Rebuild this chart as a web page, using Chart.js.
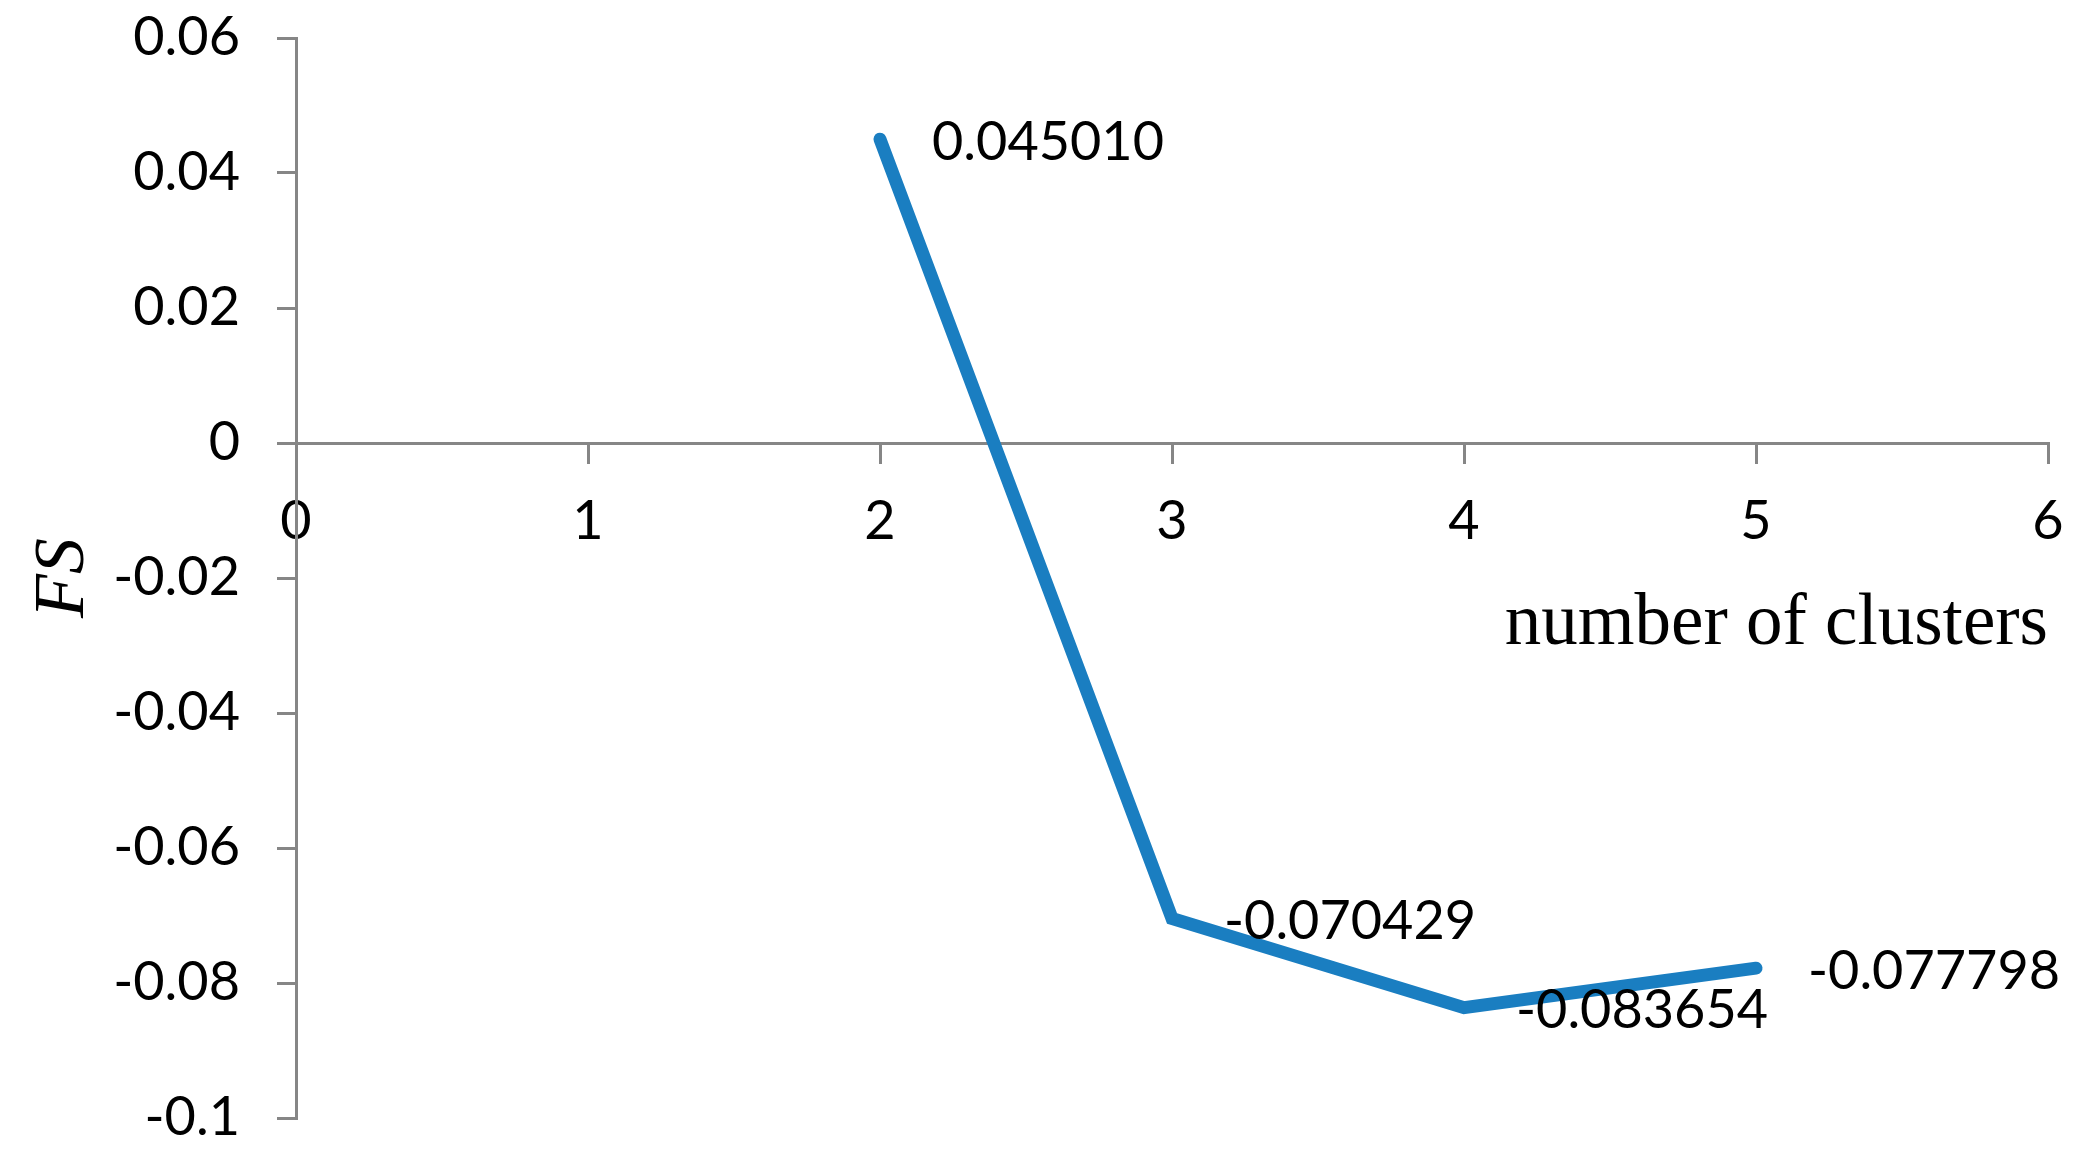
<!DOCTYPE html>
<html>
<head>
<meta charset="utf-8">
<script src="https://cdn.jsdelivr.net/npm/chart.js@4"></script>
<style>
  html, body { margin: 0; padding: 0; background: #ffffff; }
  #wrap { width: 2084px; height: 1162px; }
</style>
</head>
<body>
<div id="wrap"><canvas id="c" width="2084" height="1162"></canvas></div>
<script>
// ---- data ----
const clusters = [2, 3, 4, 5];
const fsValues = [0.045010, -0.070429, -0.083654, -0.077798];
const pointLabels = ['0.045010', '-0.070429', '-0.083654', '-0.077798'];
const xTickLabels = ['0', '1', '2', '3', '4', '5', '6'];
const yTickLabels = ['-0.1', '-0.08', '-0.06', '-0.04', '-0.02', '0', '0.02', '0.04', '0.06'];
const xTitle = 'number of clusters';
const yTitle = 'FS';

const AXIS = '#868686';
const LINE = '#1A7EC1';
const TICK_FONT = { family: 'Lato', size: 54 };

const labelPlugin = {
  id: 'pointLabels',
  afterDatasetsDraw(chart) {
    const meta = chart.getDatasetMeta(0);
    const ctx = chart.ctx;
    ctx.save();
    ctx.font = '54px Lato';
    ctx.fillStyle = '#000000';
    ctx.textAlign = 'left';
    ctx.textBaseline = 'middle';
    meta.data.forEach((pt, i) => {
      ctx.fillText(pointLabels[i], pt.x + 52, pt.y + 3);
    });
    ctx.restore();
  }
};

new Chart(document.getElementById('c'), {
  type: 'scatter',
  data: {
    datasets: [{
      data: clusters.map((c, i) => ({ x: c, y: fsValues[i] })),
      showLine: true,
      borderColor: LINE,
      borderWidth: 13,
      borderCapStyle: 'round',
      borderJoinStyle: 'miter',
      pointRadius: 0,
      pointHoverRadius: 0,
      tension: 0
    }]
  },
  options: {
    responsive: false,
    animation: false,
    devicePixelRatio: 1,
    layout: { padding: { top: 38, bottom: 44, right: 36, left: 0 } },
    plugins: { legend: { display: false }, tooltip: { enabled: false } },
    scales: {
      x: {
        type: 'linear',
        position: { y: 0 },
        min: 0, max: 6,
        afterFit: (s) => { s.paddingLeft = 0; s.paddingRight = 0; },
        ticks: {
          stepSize: 1,
          color: '#000000',
          font: TICK_FONT,
          padding: 27,
          maxRotation: 0,
          callback: (v) => xTickLabels[Math.round(v)]
        },
        grid: { drawOnChartArea: false, drawTicks: true, tickLength: 19, color: AXIS, lineWidth: 3 },
        border: { display: true, color: AXIS, width: 3 },
        title: {
          display: true,
          text: xTitle,
          align: 'end',
          color: '#000000',
          font: { family: 'Liberation Serif', size: 73 },
          padding: { top: 0, bottom: 24 }
        }
      },
      y: {
        type: 'linear',
        position: 'left',
        min: -0.1, max: 0.06,
        afterFit: (s) => { s.width = 296; s.paddingTop = 0; s.paddingBottom = 0; },
        ticks: {
          stepSize: 0.02,
          color: '#000000',
          font: TICK_FONT,
          padding: 37,
          callback: (v) => yTickLabels[Math.round((v + 0.1) / 0.02)]
        },
        grid: { drawOnChartArea: false, drawTicks: true, tickLength: 19, color: AXIS, lineWidth: 3 },
        border: { display: true, color: AXIS, width: 3 },
        title: {
          display: true,
          text: yTitle,
          color: '#000000',
          font: { family: 'Liberation Serif', size: 72, style: 'italic' },
          padding: { top: 21, bottom: 0 }
        }
      }
    }
  },
  plugins: [labelPlugin]
});
</script>
</body>
</html>
